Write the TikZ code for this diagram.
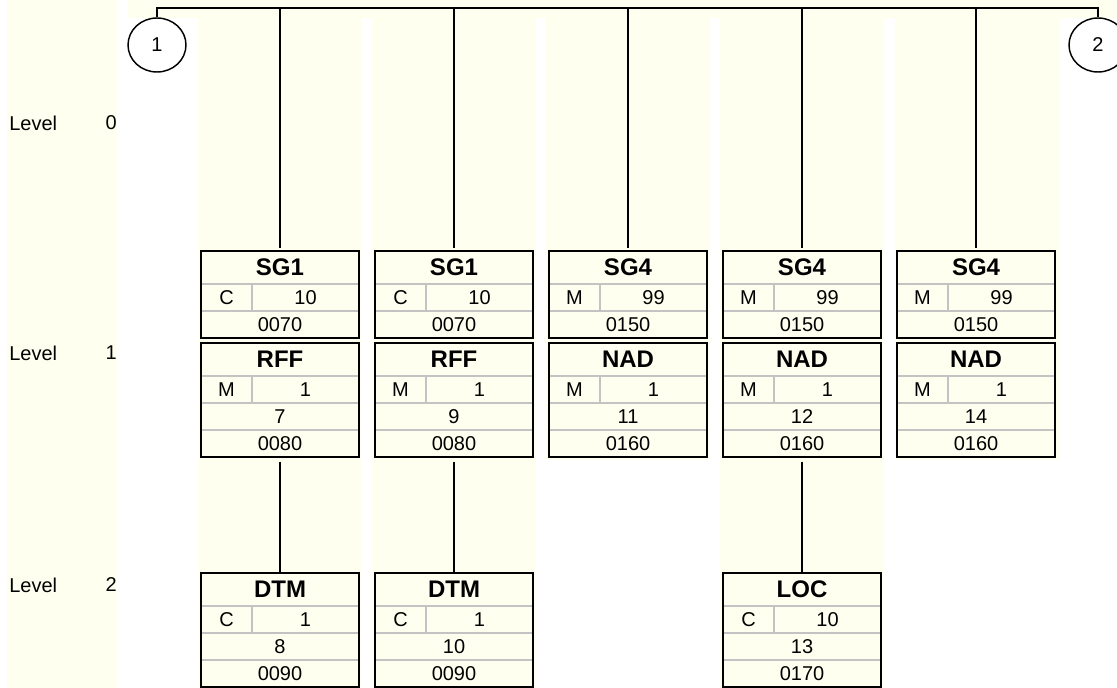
\documentclass[tikz,border=0pt]{standalone}
\usepackage{fontspec}
\setmainfont{Liberation Sans}
\usetikzlibrary{shapes,positioning,calc}

\definecolor{cream}{RGB}{255,255,240}
\definecolor{rowgray}{RGB}{195,195,195}
\def\px{0.75pt}

\tikzstyle{segframe} = [fill=cream, minimum width=158*\px, inner sep=0pt, outer sep=0pt, anchor=north]
\tikzstyle{boxedge} = [draw, line width=1.6pt]
\tikzstyle{rowline} = [draw=rowgray, line width=1.1pt]
\tikzstyle{conn} = [draw, line width=1.5pt]
\tikzstyle{txt} = [inner sep=0pt, font=\fontsize{15}{17}\selectfont]
\tikzstyle{hdr} = [inner sep=0pt, font=\fontsize{18}{20}\selectfont\bfseries]
\tikzstyle{conncirc} = [draw, ellipse, line width=1.1pt, minimum width=58*\px, minimum height=54*\px, inner sep=0pt, font=\fontsize{15}{17}\selectfont]

% group box: name, placement, label, status, repeat, position
\newcommand{\grpbox}[6]{%
  \node[segframe, minimum height=87*\px, #2] (#1) {};
  \draw[rowline] ($(#1.north west)+(0,33)$) -- ($(#1.north east)+(0,33)$);
  \draw[rowline] ($(#1.north west)+(0,60)$) -- ($(#1.north east)+(0,60)$);
  \draw[rowline] ($(#1.north west)+(51,33)$) -- ($(#1.north west)+(51,60)$);
  \draw[boxedge] (#1.north west) rectangle (#1.south east);
  \node[hdr] (#1-h) at ($(#1.north)+(0,16.5)$) {#3};
  \node[txt] (#1-s) at ($(#1.north west)+(25.5,46.5)$) {#4};
  \node[txt] (#1-r) at ($(#1.north west)+(104.5,46.5)$) {#5};
  \node[txt] (#1-p) at ($(#1.north)+(0,73.5)$) {#6};
}

% segment box: name, placement, label, status, repeat, number, position
\newcommand{\segbox}[7]{%
  \node[segframe, minimum height=114*\px, #2] (#1) {};
  \draw[rowline] ($(#1.north west)+(0,33)$) -- ($(#1.north east)+(0,33)$);
  \draw[rowline] ($(#1.north west)+(0,60)$) -- ($(#1.north east)+(0,60)$);
  \draw[rowline] ($(#1.north west)+(0,87)$) -- ($(#1.north east)+(0,87)$);
  \draw[rowline] ($(#1.north west)+(51,33)$) -- ($(#1.north west)+(51,60)$);
  \draw[boxedge] (#1.north west) rectangle (#1.south east);
  \node[hdr] (#1-h) at ($(#1.north)+(0,16.5)$) {#3};
  \node[txt] (#1-s) at ($(#1.north west)+(25.5,46.5)$) {#4};
  \node[txt] (#1-r) at ($(#1.north west)+(104.5,46.5)$) {#5};
  \node[txt] (#1-n) at ($(#1.north)+(0,73.5)$) {#6};
  \node[txt] (#1-p) at ($(#1.north)+(0,100.5)$) {#7};
}

\begin{document}
\begin{tikzpicture}[x=0.75pt, y=-0.75pt]
    \useasboundingbox (0,0) rectangle (1117,688);
    % backgrounds
    \fill[cream] (7,0) rectangle (117,688);
    \fill[cream] (128,0) rectangle (1117,18);
    \foreach \bx/\by in {198/688,372/688,546/460,720/688,895/460}
        \fill[cream] (\bx,18) rectangle ({\bx+164},\by);

    % level labels
    \foreach \n/\ly in {0/123,1/353,2/585} {
        \node[txt, anchor=west] (lv\n) at (9,\ly) {Level};
        \node[txt, anchor=east] (lvn\n) at (117,\ly) {\n};
    }

    % level 1
    \grpbox{sgA}{at={(280,251)}}{SG1}{C}{10}{0070}
    \grpbox{sgB}{right=12pt of sgA}{SG1}{C}{10}{0070}
    \grpbox{sgC}{right=12pt of sgB}{SG4}{M}{99}{0150}
    \grpbox{sgD}{right=12pt of sgC}{SG4}{M}{99}{0150}
    \grpbox{sgE}{right=12pt of sgD}{SG4}{M}{99}{0150}
    \segbox{rffA}{below=3.75pt of sgA}{RFF}{M}{1}{7}{0080}
    \segbox{rffB}{below=3.75pt of sgB}{RFF}{M}{1}{9}{0080}
    \segbox{nadC}{below=3.75pt of sgC}{NAD}{M}{1}{11}{0160}
    \segbox{nadD}{below=3.75pt of sgD}{NAD}{M}{1}{12}{0160}
    \segbox{nadE}{below=3.75pt of sgE}{NAD}{M}{1}{14}{0160}

    % level 2
    \segbox{dtmA}{below=87pt of rffA}{DTM}{C}{1}{8}{0090}
    \segbox{dtmB}{below=87pt of rffB}{DTM}{C}{1}{10}{0090}
    \segbox{locD}{below=87pt of nadD}{LOC}{C}{10}{13}{0170}

    % connectors
    \node[conncirc] (c1) at (157,45) {1};
    \node[conncirc] (c2) at (1098,45) {2};
    \coordinate (bus) at (600,8.5);
    \draw[conn] (c1.north) |- (bus) -| (c2.north);
    \foreach \s in {sgA,sgB,sgC,sgD,sgE}
        \draw[conn, shorten >=2pt] (\s.north |- bus) -- (\s);
    \draw[conn, shorten <=3.5pt] (rffA) -- (dtmA);
    \draw[conn, shorten <=3.5pt] (rffB) -- (dtmB);
    \draw[conn, shorten <=3.5pt] (nadD) -- (locD);
\end{tikzpicture}
\end{document}
